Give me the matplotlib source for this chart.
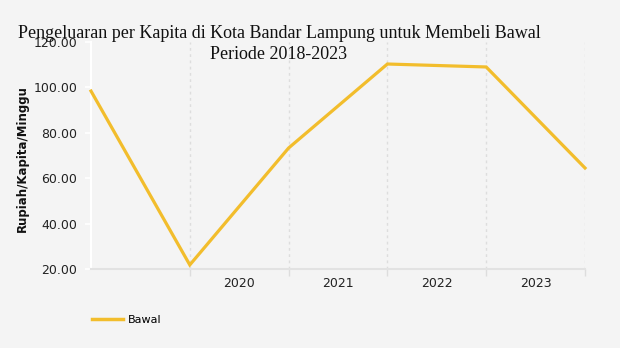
import matplotlib
matplotlib.use("Agg")
import matplotlib.pyplot as plt
from matplotlib.lines import Line2D

years = [2018, 2019, 2020, 2021, 2022, 2023]
bawal = [98.4, 21.8, 73.3, 110.3, 109.0, 64.5]
shown_year_labels = ["2020", "2021", "2022", "2023"]
y_ticks = [20, 40, 60, 80, 100, 120]

bg = "#f4f4f4"
line_color = "#f2bd2c"

fig = plt.figure(figsize=(6.2, 3.48), dpi=100, facecolor=bg)
ax = fig.add_axes([91 / 620, 1 - 269 / 348, (585 - 91) / 620, (269 - 42) / 348])
ax.set_facecolor(bg)

x = list(range(len(years)))
ax.plot(x, bawal, color=line_color, lw=2.3, solid_joinstyle="miter", clip_on=False, zorder=3)

ax.set_xlim(0, len(years) - 1)
ax.set_ylim(20, 120)
ax.set_yticks(y_ticks)
ax.set_yticklabels([f"{v:.2f}" for v in y_ticks], fontsize=9, color="#222222")

# category boundaries with dotted grid lines, labels centred between them
ax.set_xticks(x[1:])
ax.set_xticklabels([])
ax.tick_params(axis="x", length=5, color="#dddddd", width=1)
ax.set_xticks([i + 0.5 for i in range(1, len(years) - 1)], minor=True)
ax.set_xticklabels(shown_year_labels, minor=True, fontsize=9, color="#222222")
ax.tick_params(axis="x", which="minor", length=0, pad=6)
for xi in x[1:]:
    ax.axvline(xi, color="#dddddd", lw=1, ls=(0, (2, 2.5)), zorder=1)

ax.tick_params(axis="y", length=4, color="white", width=1.2, pad=6)

for s in ["top", "right"]:
    ax.spines[s].set_visible(False)
ax.spines["left"].set_color("white")
ax.spines["left"].set_linewidth(1.5)
ax.spines["bottom"].set_color("#e2e2e2")
ax.spines["bottom"].set_linewidth(1.5)

ax.set_ylabel("Rupiah/Kapita/Minggu", fontsize=8.5, fontweight="bold", color="#111111")
ax.yaxis.set_label_coords(-0.126, 0.485)

fig.text(279 / 620, 1 - 44 / 348,
         "Pengeluaran per Kapita di Kota Bandar Lampung untuk Membeli Bawal\nPeriode 2018-2023",
         ha="center", va="center", fontsize=13, family="Liberation Serif",
         color="#111111", linespacing=1.32)

handle = Line2D([], [], color=line_color, lw=2.5)
fig.legend([handle], ["Bawal"], loc="center left", bbox_to_anchor=(82 / 620, 1 - 320 / 348),
           frameon=False, fontsize=8, handlelength=2.8, handletextpad=0.4)

fig.savefig("out.png", dpi=100, facecolor=bg)
